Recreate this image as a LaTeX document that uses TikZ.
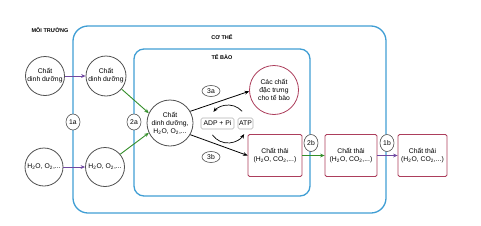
\documentclass[tikz,border=0pt]{standalone}
\usepackage{fontspec}
\setmainfont{Liberation Sans}
\usetikzlibrary{arrows.meta,shapes.geometric}
\definecolor{cblue}{RGB}{64,158,212}
\definecolor{maroon}{RGB}{172,62,92}
\definecolor{cpurple}{RGB}{112,72,160}
\definecolor{cgreen}{RGB}{52,142,42}
\definecolor{cgray}{RGB}{80,80,80}
\begin{document}
\begin{tikzpicture}[x=1pt,y=1pt,
  txt/.style={font=\fontsize{6.8}{8}\selectfont,align=center,inner sep=0pt},
  circ/.style={txt,circle,draw=cgray,line width=0.8pt,minimum size=#1},
  box/.style={txt,draw=maroon,line width=0.8pt,rounded corners=1.5pt,minimum width=#1,minimum height=42},
  small/.style={txt,draw=gray!60,line width=0.6pt,rounded corners=1.5pt,minimum height=11,fill=white},
  lab/.style={txt,ellipse,draw=cgray,line width=0.6pt,fill=white,minimum width=#1,inner sep=0pt},
  head/.style={font=\fontsize{5.5}{6.5}\selectfont\bfseries,inner sep=0pt},
  tip/.style={-{Stealth[length=4.5pt,width=3.8pt]}},
  frame/.style={draw=cblue,line width=1.3pt}]
\useasboundingbox (0,0) rectangle (481,-225);
% frames
\draw[frame,rounded corners=15] (73,-26) rectangle (386,-213);
\draw[frame,rounded corners=10] (134,-49) rectangle (310,-196);
% headings
\node[head] (moi) at (50,-30) {MÔI TRƯỜNG};
\node[head] (co) at (222,-37) {CƠ THỂ};
\node[head] (te) at (222,-57) {TẾ BÀO};
% nodes
\node[circ=39] (dd1) at (45,-76) {Chất\\dinh dưỡng};
\node[circ=40] (dd2) at (106,-76) {Chất\\dinh dưỡng};
\node[circ=38] (h1) at (44,-167) {H\textsubscript{2}O, O\textsubscript{2},...};
\node[circ=39] (h2) at (105,-167) {H\textsubscript{2}O, O\textsubscript{2},...};
\node[circ=46] (cen) at (170,-123) {Chất\\dinh dưỡng,\\H\textsubscript{2}O, O\textsubscript{2},...};
\node[circ=49,draw=maroon] (cac) at (274,-90) {Các chất\\đặc trưng\\cho tế bào};
\node[small,minimum width=33] (adp) at (217.5,-123.5) {ADP + Pi};
\node[small,minimum width=15] (atp) at (245.5,-123.5) {ATP};
\node[box=54] (t1) at (275,-155.5) {Chất thải\\(H\textsubscript{2}O, CO\textsubscript{2},...)};
\node[box=52] (t2) at (351,-155.5) {Chất thải\\(H\textsubscript{2}O, CO\textsubscript{2},...)};
\node[box=49] (t3) at (422.5,-155.5) {Chất thải\\(H\textsubscript{2}O, CO\textsubscript{2},...)};
% connectors
\draw[tip,cpurple,line width=0.9pt] (dd1.east) -- (dd2.west);
\draw[tip,cpurple,line width=0.9pt] (h1.east) -- (h2.west);
\draw[tip,cgreen,line width=0.9pt] (dd2.-40) -- (cen.155);
\draw[tip,cgreen,line width=0.9pt] (h2.40) -- (cen.205);
\draw[tip,black,line width=0.8pt] (cen.30) -- (cac.183);
\draw[tip,black,line width=0.8pt] (cen.-30) -- (t1.west);
\draw[tip,cgreen,line width=0.9pt] (t1.east) -- (t2.west);
\draw[tip,cpurple,line width=0.9pt] (t2.east) -- (t3.west);
% cycle arcs
\coordinate (cyc) at (228,-124);
\draw[tip,black,line width=0.7pt] ([shift={(42:19)}]cyc) arc (42:140:19);
\draw[tip,black,line width=0.7pt] ([shift={(215:19)}]cyc) arc (215:328:19);
% labels
\node[lab=14,minimum height=16] (l1a) at (73,-122) {1a};
\node[lab=14,minimum height=16] (l2a) at (134,-122) {2a};
\node[lab=14,minimum height=17] (l2b) at (311,-143) {2b};
\node[lab=14,minimum height=17] (l1b) at (387,-143) {1b};
\node[lab=18,minimum height=11] (l3a) at (211,-91) {3a};
\node[lab=18,minimum height=11] (l3b) at (211,-157) {3b};
\end{tikzpicture}
\end{document}
